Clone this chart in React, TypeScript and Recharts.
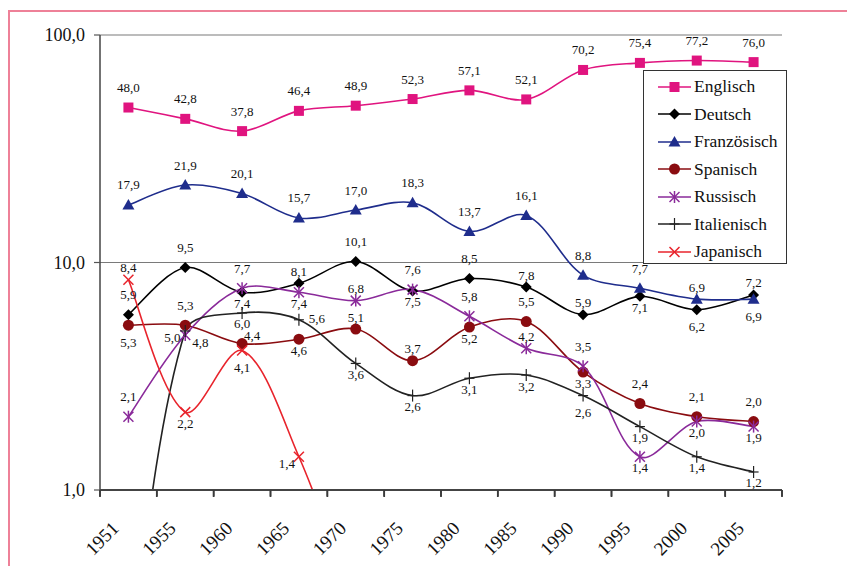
import React from 'react';
import { LineChart, Line, XAxis, YAxis, CartesianGrid, Legend, LabelList } from 'recharts';

const years = ['1951', '1955', '1960', '1965', '1970', '1975', '1980', '1985', '1990', '1995', '2000', '2005'];
const englisch = [48.0, 42.8, 37.8, 46.4, 48.9, 52.3, 57.1, 52.1, 70.2, 75.4, 77.2, 76.0];
const deutsch = [5.9, 9.5, 7.4, 8.1, 10.1, 7.5, 8.5, 7.8, 5.9, 7.1, 6.2, 7.2];
const franzoesisch = [17.9, 21.9, 20.1, 15.7, 17.0, 18.3, 13.7, 16.1, 8.8, 7.7, 6.9, 6.9];
const spanisch = [5.3, 5.3, 4.4, 4.6, 5.1, 3.7, 5.2, 5.5, 3.3, 2.4, 2.1, 2.0];
const russisch = [2.1, 4.8, 7.7, 7.4, 6.8, 7.6, 5.8, 4.2, 3.5, 1.4, 2.0, 1.9];
const italienisch = [0.15, 5.0, 6.0, 5.6, 3.6, 2.6, 3.1, 3.2, 2.6, 1.9, 1.4, 1.2];
const japanisch: (number | null)[] = [8.4, 2.2, 4.1, 1.4, 0.3, null, null, null, null, null, null, null];
const yTicks = [1, 10, 100];

// label placement codes (style only)
const englischLbl = ['t', 't', 't', 't', 't', 't', 't', 't', 't', 't', 't', 't'];
const deutschLbl = ['t', 't', 'b', 'u', 't', 'b', 't', 'u', 'u', 'b', 'd', 'u'];
const franzLbl = ['t', 't', 't', 't', 't', 't', 't', 't', 't', 't', 'u', 'd'];
const spanischLbl = ['d', 't', 'tr', 'b', 'u', 'u', 'b', 't', 'b', 't', 't', 't'];
const russischLbl = ['t', 'br', 't', 'b', 'u', 't', 't', 'u', 't', 'b', 'b', 'b'];
const italienLbl = ['', 'bl', 'b', 'r', 'b', 'b', 'b', 'b', 'd', 'b', 'b', 'b'];
const japanLbl = ['u', 'b', 'd', 'l', '', '', '', '', '', '', '', ''];

const OFFS: Record<string, [number, number]> = {
  t: [0, -20], u: [0, -12], b: [0, 11], d: [0, 17], r: [18, -1],
  tr: [10, -8], br: [15, 7], bl: [-13, 7], l: [-12, 7],
};

const FONT = "'Liberation Serif', Tinos, 'Times New Roman', 'DejaVu Serif', 'Noto Serif', serif";

type Shape = 'square' | 'diamond' | 'triangle' | 'circle' | 'asterisk' | 'plus' | 'cross';

const series: { name: string; values: (number | null)[]; color: string; shape: Shape; labels: string[] }[] = [
  { name: 'Englisch', values: englisch, color: '#e0147f', shape: 'square', labels: englischLbl },
  { name: 'Deutsch', values: deutsch, color: '#000000', shape: 'diamond', labels: deutschLbl },
  { name: 'Französisch', values: franzoesisch, color: '#1f2d8c', shape: 'triangle', labels: franzLbl },
  { name: 'Spanisch', values: spanisch, color: '#8a0c10', shape: 'circle', labels: spanischLbl },
  { name: 'Russisch', values: russisch, color: '#8a2a9a', shape: 'asterisk', labels: russischLbl },
  { name: 'Italienisch', values: italienisch, color: '#222222', shape: 'plus', labels: italienLbl },
  { name: 'Japanisch', values: japanisch, color: '#e8242c', shape: 'cross', labels: japanLbl },
];

const rows = years.map((y, i) => {
  const r: any = { x: i + 0.5, year: y };
  series.forEach((s) => { r[s.name] = s.values[i]; });
  return r;
});

// Excel-like smoothing: bezier with length-weighted Catmull-Rom tangents
function excelCurve(context: any) {
  let pts: number[][] = [];
  const dist = (a: number[], b: number[]) => Math.hypot(b[0] - a[0], b[1] - a[1]) || 1e-6;
  return {
    areaStart() {},
    areaEnd() {},
    lineStart() { pts = []; },
    point(x: number, y: number) { pts.push([+x, +y]); },
    lineEnd() {
      const n = pts.length;
      if (!n) return;
      context.moveTo(pts[0][0], pts[0][1]);
      if (n === 1) { context.lineTo(pts[0][0], pts[0][1]); return; }
      const outC: number[][] = [];
      const inC: number[][] = [];
      for (let i = 0; i < n; i++) {
        const prev = pts[Math.max(0, i - 1)];
        const next = pts[Math.min(n - 1, i + 1)];
        const p = pts[i];
        const tx = next[0] - prev[0];
        const ty = next[1] - prev[1];
        const dPrev = i > 0 ? dist(prev, p) : 0;
        const dNext = i < n - 1 ? dist(p, next) : 0;
        const tot = dPrev + dNext || 1;
        const fo = i === 0 || i === n - 1 ? 1 / 6 : (dNext / tot) / 3;
        const fi = i === 0 || i === n - 1 ? 1 / 6 : (dPrev / tot) / 3;
        outC.push([p[0] + tx * fo, p[1] + ty * fo]);
        inC.push([p[0] - tx * fi, p[1] - ty * fi]);
      }
      for (let i = 0; i < n - 1; i++) {
        const c1 = outC[i];
        const c2 = inC[i + 1];
        context.bezierCurveTo(c1[0], c1[1], c2[0], c2[1], pts[i + 1][0], pts[i + 1][1]);
      }
    },
  };
}

function marker(shape: Shape, color: string, cx: number, cy: number, key?: any) {
  switch (shape) {
    case 'square':
      return <rect key={key} x={cx - 5} y={cy - 5} width={10} height={10} fill={color} />;
    case 'diamond':
      return <polygon key={key} points={`${cx},${cy - 5.5} ${cx + 5.5},${cy} ${cx},${cy + 5.5} ${cx - 5.5},${cy}`} fill={color} />;
    case 'triangle':
      return <polygon key={key} points={`${cx},${cy - 6} ${cx + 6},${cy + 4.5} ${cx - 6},${cy + 4.5}`} fill={color} />;
    case 'circle':
      return <circle key={key} cx={cx} cy={cy} r={5.5} fill={color} />;
    case 'asterisk':
      return (
        <g key={key} stroke={color} strokeWidth={1.5}>
          <line x1={cx - 5} y1={cy - 5} x2={cx + 5} y2={cy + 5} />
          <line x1={cx - 5} y1={cy + 5} x2={cx + 5} y2={cy - 5} />
          <line x1={cx} y1={cy - 6} x2={cx} y2={cy + 6} />
        </g>
      );
    case 'plus':
      return (
        <g key={key} stroke={color} strokeWidth={1.2}>
          <line x1={cx - 5} y1={cy} x2={cx + 5} y2={cy} />
          <line x1={cx} y1={cy - 6} x2={cx} y2={cy + 6} />
        </g>
      );
    case 'cross':
    default:
      return (
        <g key={key} stroke={color} strokeWidth={1.5}>
          <line x1={cx - 5} y1={cy - 5} x2={cx + 5} y2={cy + 5} />
          <line x1={cx - 5} y1={cy + 5} x2={cx + 5} y2={cy - 5} />
        </g>
      );
  }
}

const makeDot = (shape: Shape, color: string) => (props: any) => {
  const { cx, cy, index } = props;
  if (cx == null || cy == null || !isFinite(cy)) return <g key={`d-${index}`} />;
  return marker(shape, color, cx, cy, `d-${index}`);
};

const makeLabel = (codes: string[]) => (props: any) => {
  const { x, y, value, index } = props;
  const code = codes[index];
  if (!code || value == null) return null;
  const [dx, dy] = OFFS[code];
  return (
    <text x={x + dx} y={y + dy} textAnchor="middle" dominantBaseline="central" fontSize={13} fontFamily={FONT} fill="#111">
      {Number(value).toFixed(1).replace('.', ',')}
    </text>
  );
};

// tick mark at each category boundary, year label at the middle of the following category
const XTick = (props: any) => {
  const { x, y, payload, width } = props;
  const i = Math.round(payload.value);
  const half = (Number(width) || 682) / years.length / 2;
  return (
    <g>
      <path d={`M${x},${y - 6}L${x},${y + 1}`} stroke="#3a3a3a" strokeWidth={1.8} fill="none" />
      {i < years.length && (
        <text transform={`translate(${x + half - 13},${y + 29}) rotate(-45)`} textAnchor="end" dominantBaseline="central" fontSize={19} fontFamily={FONT} fill="#111">
          {years[i]}
        </text>
      )}
    </g>
  );
};

const renderLegend = () => (
  <div style={{ boxSizing: 'border-box', width: 144, height: 194, border: '1px solid #333', background: '#fff', padding: '2px 0 0 13px', fontFamily: FONT, fontSize: 17.5, color: '#111' }}>
    {series.map((s) => (
      <div key={s.name} style={{ display: 'flex', alignItems: 'center', height: 27.5 }}>
        <svg width={35} height={14} style={{ flex: 'none' }}>
          <line x1={1} y1={7} x2={34} y2={7} stroke={s.color} strokeWidth={1.5} />
          {marker(s.shape, s.color, 17.5, 7)}
        </svg>
        <span style={{ marginLeft: 2, lineHeight: 1 }}>{s.name}</span>
      </div>
    ))}
  </div>
);

const tickPositions = Array.from({ length: years.length + 1 }, (_, i) => i);

export default function App() {
  return (
    <div style={{ position: 'absolute', left: 0, top: 0, width: 847, height: 566, background: '#fff', overflow: 'hidden' }}>
      <div style={{ position: 'absolute', left: 8, top: 10, width: 900, height: 700, border: '2px solid #ee8198', boxSizing: 'border-box' }} />
      <div style={{ position: 'absolute', left: 0, top: 0 }}>
        <LineChart width={847} height={566} data={rows} margin={{ top: 35, right: 65, bottom: 15, left: 0 }}>
          <CartesianGrid horizontal vertical={false} stroke="#7a7a7a" strokeWidth={1.2} />
          <XAxis type="number" dataKey="x" domain={[0, years.length]} ticks={tickPositions} interval={0}
            tick={<XTick />} tickSize={6} tickMargin={0} height={61}
            axisLine={{ stroke: '#444', strokeWidth: 2 }} tickLine={{ stroke: '#444', strokeWidth: 1.5 }} allowDataOverflow />
          <YAxis type="number" scale="log" domain={[1, 100]} allowDataOverflow ticks={yTicks} interval={0} width={100}
            tickSize={6} tickMargin={9} tickFormatter={(v: number) => v.toFixed(1).replace('.', ',')}
            tick={{ fontSize: 18, fontFamily: FONT, fill: '#111' }}
            axisLine={{ stroke: '#444', strokeWidth: 1.5 }} tickLine={{ stroke: '#555', strokeWidth: 1.2 }} />
          <Legend layout="vertical" align="center" verticalAlign="middle" content={renderLegend}
            wrapperStyle={{ left: 643, top: 70, width: 144, height: 194 }} />
          {series.map((s) => (
            <Line key={s.name} dataKey={s.name} name={s.name} stroke={s.color} strokeWidth={1.6}
              type={excelCurve as any} dot={makeDot(s.shape, s.color)} activeDot={false} isAnimationActive={false} connectNulls={false}>
              <LabelList dataKey={s.name} content={makeLabel(s.labels)} />
            </Line>
          ))}
        </LineChart>
      </div>
    </div>
  );
}
